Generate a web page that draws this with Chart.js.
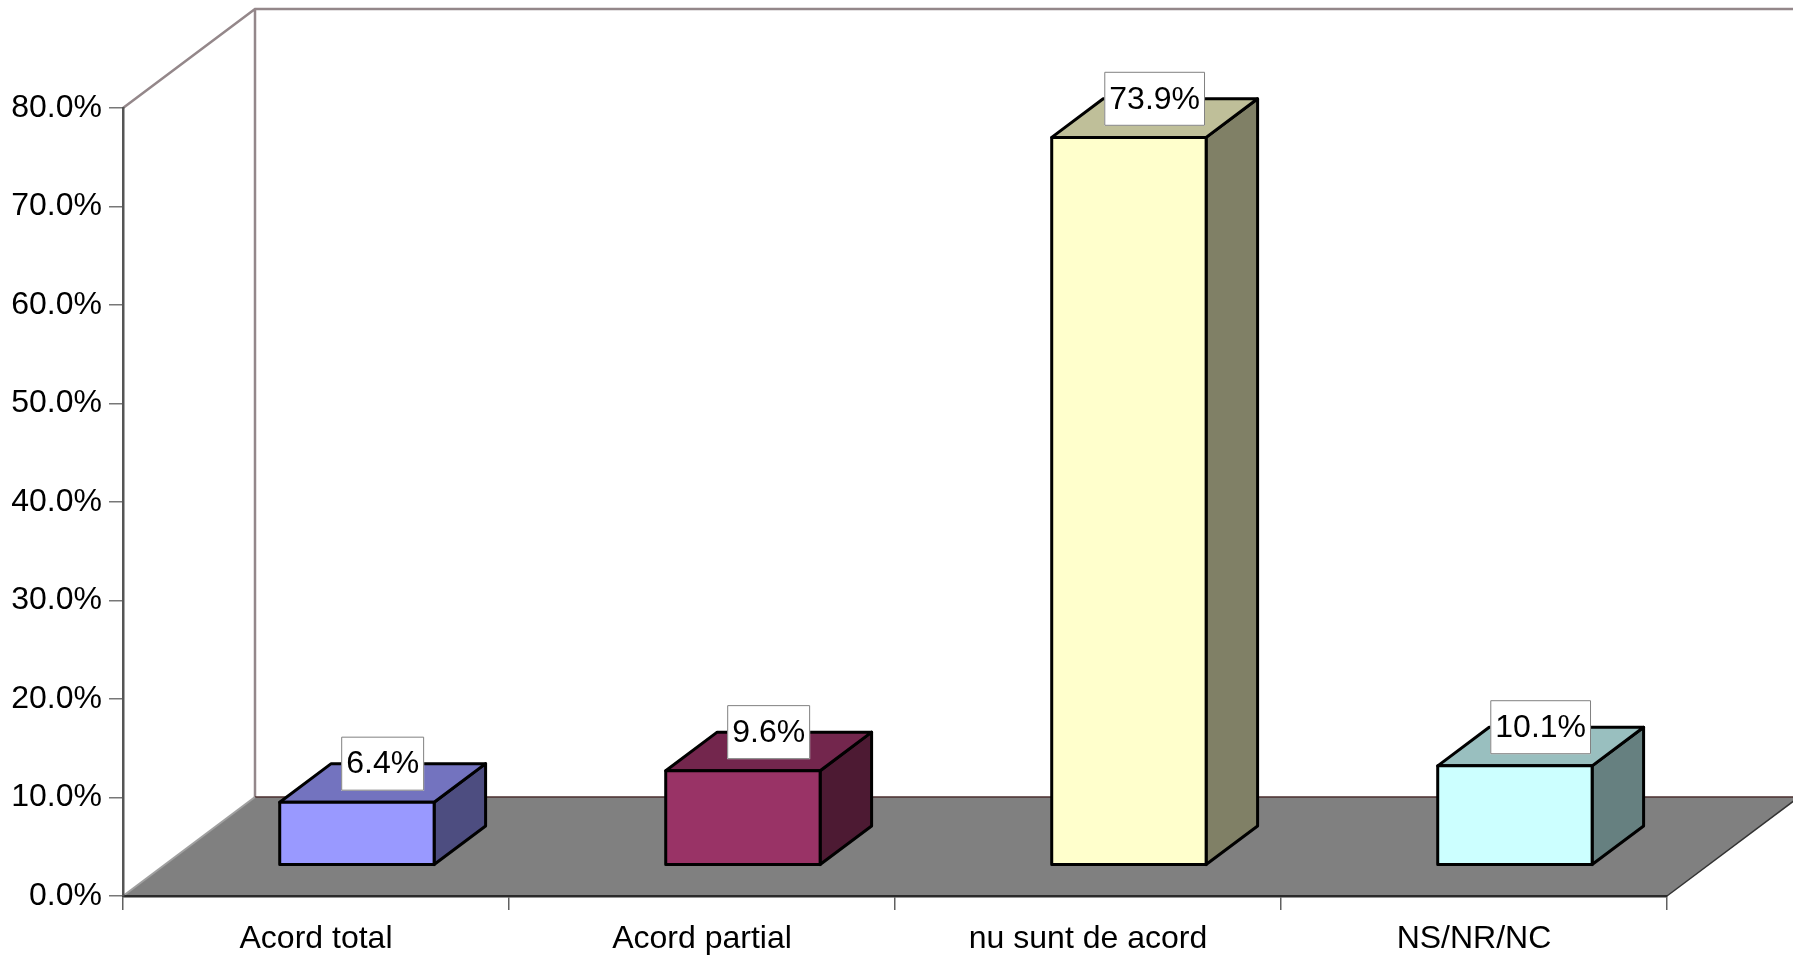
<!DOCTYPE html>
<html>
<head>
<meta charset="utf-8">
<script src="https://cdn.jsdelivr.net/npm/chart.js@4"></script>
<style>
  body { margin: 0; background: #fff; }
  #wrap { width: 1793px; height: 957px; position: relative; }
</style>
</head>
<body>
<div id="wrap"><canvas id="chart1"></canvas></div>
<script>
const categories = ['Acord total', 'Acord partial', 'nu sunt de acord', 'NS/NR/NC'];
const values = [6.4, 9.6, 73.9, 10.1];
const yMin = 0;
const yMax = 80;
const yStep = 10;

// face colours of each box: front, top (darker), side (darkest)
const frontColors = ['#9999FF', '#993366', '#FFFFCC', '#CCFFFF'];
const topColors = ['#7373BF', '#73264D', '#BFBF99', '#99BFBF'];
const sideColors = ['#4D4D80', '#4D1A33', '#808066', '#668080'];

const FONT = '"Liberation Sans", Arial, sans-serif';

// depth of the 3d box (floor / walls) in px
const depthX = 132;
const depthY = 99;
// where the bars sit inside the depth
const frontFrac = 0.31;
const backFrac = 0.70;

const box3d = {
    id: 'box3d',
    beforeDraw(chart) {
        const ctx = chart.ctx;
        const a = chart.chartArea;
        const W = chart.width;
        ctx.save();

        // back wall
        ctx.fillStyle = '#ffffff';
        ctx.fillRect(a.left + depthX, a.top - depthY, W, a.bottom - a.top);

        // floor
        ctx.beginPath();
        ctx.moveTo(a.left, a.bottom);
        ctx.lineTo(a.right, a.bottom);
        ctx.lineTo(a.right + depthX, a.bottom - depthY);
        ctx.lineTo(a.left + depthX, a.bottom - depthY);
        ctx.closePath();
        ctx.fillStyle = '#808080';
        ctx.fill();

        // wall edges
        ctx.strokeStyle = '#94878a';
        ctx.lineWidth = 2.5;
        ctx.beginPath();
        ctx.moveTo(a.left, a.top);
        ctx.lineTo(a.left + depthX, a.top - depthY);
        ctx.lineTo(W + 5, a.top - depthY);
        ctx.moveTo(a.left + depthX, a.top - depthY);
        ctx.lineTo(a.left + depthX, a.bottom - depthY);
        ctx.stroke();

        // floor back edge
        ctx.strokeStyle = '#4a2e2e';
        ctx.lineWidth = 1.5;
        ctx.beginPath();
        ctx.moveTo(a.left + depthX, a.bottom - depthY);
        ctx.lineTo(a.right + depthX, a.bottom - depthY);
        ctx.stroke();

        // floor left edge
        ctx.strokeStyle = '#a0a0a0';
        ctx.lineWidth = 2;
        ctx.beginPath();
        ctx.moveTo(a.left, a.bottom);
        ctx.lineTo(a.left + depthX, a.bottom - depthY);
        ctx.stroke();

        // floor right edge
        ctx.strokeStyle = '#333333';
        ctx.lineWidth = 1.5;
        ctx.beginPath();
        ctx.moveTo(a.right, a.bottom);
        ctx.lineTo(a.right + depthX, a.bottom - depthY);
        ctx.stroke();

        ctx.restore();
    },
    afterDatasetsDraw(chart) {
        const ctx = chart.ctx;
        const meta = chart.getDatasetMeta(0);
        const fx = frontFrac * depthX, fy = frontFrac * depthY;
        const bx = (backFrac - frontFrac) * depthX, by = (backFrac - frontFrac) * depthY;

        ctx.save();
        ctx.lineWidth = 3;
        ctx.strokeStyle = '#000000';
        ctx.lineJoin = 'round';

        meta.data.forEach((bar, i) => {
            const half = bar.width / 2;
            const x0 = bar.x - half + fx;
            const x1 = bar.x + half + fx;
            const yTop = bar.y - fy;
            const yBot = bar.base - fy;

            // side
            ctx.beginPath();
            ctx.moveTo(x1, yTop);
            ctx.lineTo(x1 + bx, yTop - by);
            ctx.lineTo(x1 + bx, yBot - by);
            ctx.lineTo(x1, yBot);
            ctx.closePath();
            ctx.fillStyle = sideColors[i];
            ctx.fill();
            ctx.stroke();

            // top
            ctx.beginPath();
            ctx.moveTo(x0, yTop);
            ctx.lineTo(x1, yTop);
            ctx.lineTo(x1 + bx, yTop - by);
            ctx.lineTo(x0 + bx, yTop - by);
            ctx.closePath();
            ctx.fillStyle = topColors[i];
            ctx.fill();
            ctx.stroke();

            // front
            ctx.beginPath();
            ctx.rect(x0, yTop, x1 - x0, yBot - yTop);
            ctx.fillStyle = frontColors[i];
            ctx.fill();
            ctx.stroke();
        });

        // value labels
        ctx.font = '32px ' + FONT;
        ctx.textAlign = 'center';
        ctx.textBaseline = 'middle';
        meta.data.forEach((bar, i) => {
            const txt = values[i].toFixed(1) + '%';
            const cx = bar.x + fx + bx / 2;
            const cy = bar.y - fy - by;
            const w = ctx.measureText(txt).width + 10;
            const h = 54;
            ctx.fillStyle = '#ffffff';
            ctx.fillRect(cx - w / 2, cy - h / 2, w, h);
            ctx.strokeStyle = '#808080';
            ctx.lineWidth = 1;
            ctx.strokeRect(cx - w / 2 + 0.5, cy - h / 2 + 0.5, w - 1, h - 1);
            ctx.fillStyle = '#000000';
            ctx.fillText(txt, cx, cy + 1);
        });
        ctx.restore();
    }
};

const ctx1 = document.getElementById('chart1').getContext('2d');
const chart1 = new Chart(ctx1, {
    type: 'bar',
    data: {
        labels: categories,
        datasets: [{
            data: values,
            backgroundColor: 'rgba(0,0,0,0)',
            borderWidth: 0,
            barPercentage: 0.4,
            categoryPercentage: 1
        }]
    },
    options: {
        responsive: true,
        maintainAspectRatio: false,
        animation: false,
        layout: { padding: { top: 108, right: 126, left: 0, bottom: 0 } },
        plugins: {
            legend: { display: false },
            tooltip: { enabled: false }
        },
        scales: {
            x: {
                afterFit(scale) { scale.height = 61; },
                grid: {
                    offset: true,
                    drawOnChartArea: false,
                    tickLength: 14,
                    color: '#606060',
                    lineWidth: 1.5
                },
                border: { color: '#2a2a2a', width: 2.5 },
                ticks: {
                    color: '#000000',
                    padding: 10,
                    maxRotation: 0,
                    font: { family: FONT, size: 32 }
                }
            },
            y: {
                min: yMin,
                max: yMax,
                afterFit(scale) { scale.width = 123; },
                grid: {
                    drawOnChartArea: false,
                    tickLength: 14,
                    color: '#777777',
                    lineWidth: 1.5
                },
                border: { color: '#555555', width: 2.5 },
                ticks: {
                    stepSize: yStep,
                    color: '#000000',
                    padding: 7,
                    font: { family: FONT, size: 32 },
                    callback: v => v.toFixed(1) + '%'
                }
            }
        }
    },
    plugins: [box3d]
});
</script>
</body>
</html>
